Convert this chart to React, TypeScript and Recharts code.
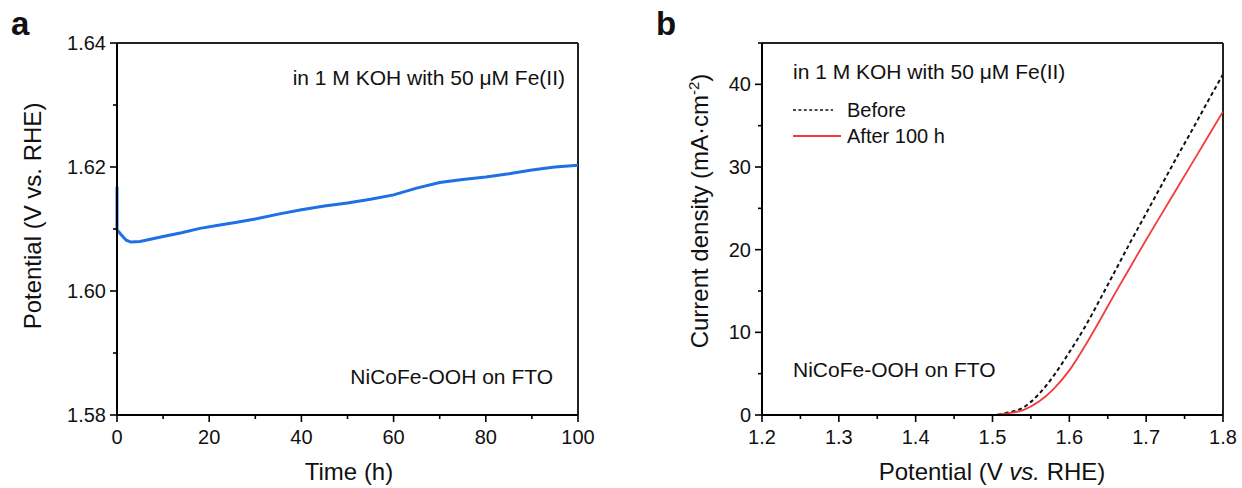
import { LineChart, Line, XAxis, YAxis, ReferenceLine, Legend } from "recharts";

const FONT = "'Liberation Sans', Arial, Helvetica, sans-serif";

// panel a: chronopotentiometry
const timeH = [0, 0, 1, 2, 3, 5, 7, 10, 14, 18, 22, 26, 30, 35, 40, 45, 50, 55, 60, 65, 70, 75, 80, 85, 90, 95, 100];
const potentialV = [
  1.6168, 1.6099, 1.609, 1.6082, 1.6079, 1.608, 1.6083, 1.6088, 1.6094, 1.6101, 1.6106, 1.6111, 1.6116, 1.6124,
  1.6131, 1.6137, 1.6142, 1.6148, 1.6155, 1.6166, 1.6175, 1.618, 1.6184, 1.6189, 1.6195, 1.62, 1.6203,
];
const timeTicks = [0, 10, 20, 30, 40, 50, 60, 70, 80, 90, 100];
const timeMajor = [0, 20, 40, 60, 80, 100];
const potTicks = [1.58, 1.59, 1.6, 1.61, 1.62, 1.63, 1.64];
const potMajor = [1.58, 1.6, 1.62, 1.64];

// panel b: polarization curves
const lsvPotential = [1.27, 1.3, 1.35, 1.4, 1.45, 1.5, 1.52, 1.54, 1.56, 1.58, 1.6, 1.62, 1.64, 1.66, 1.68, 1.7, 1.72, 1.74, 1.76, 1.78, 1.8];
const beforeJ = [0, 0, 0, 0, 0, 0, 0.3, 0.9, 2.5, 4.8, 7.6, 10.6, 14.0, 17.5, 21.0, 24.4, 27.8, 31.2, 34.5, 37.9, 41.2];
const afterJ = [0, 0, 0, 0, 0, 0, 0.2, 0.6, 1.6, 3.2, 5.4, 8.3, 11.5, 14.8, 18.0, 21.2, 24.3, 27.4, 30.5, 33.6, 36.7];
const vTicks = [1.2, 1.25, 1.3, 1.35, 1.4, 1.45, 1.5, 1.55, 1.6, 1.65, 1.7, 1.75, 1.8];
const vMajor = [1.2, 1.3, 1.4, 1.5, 1.6, 1.7, 1.8];
const jTicks = [0, 5, 10, 15, 20, 25, 30, 35, 40, 45];
const jMajor = [0, 10, 20, 30, 40];

const stabilityData = timeH.map((t, i) => ({ t, v: potentialV[i] }));
const lsvData = lsvPotential.map((p, i) => ({ p, before: beforeJ[i], after: afterJ[i] }));

const isMajor = (list: number[], v: number) => list.some((m) => Math.abs(m - v) < 1e-6);

const makeXTick = (majors: number[], digits: number) => (props: any) => {
  const { x, y, payload } = props;
  const major = isMajor(majors, payload.value);
  return (
    <g>
      <line x1={x} y1={y} x2={x} y2={y + (major ? 7 : 4)} stroke="#000" strokeWidth={1.6} />
      {major && (
        <text x={x} y={y + 29} textAnchor="middle" fontSize={20} fontFamily={FONT} fill="#111">
          {payload.value.toFixed(digits)}
        </text>
      )}
    </g>
  );
};

const makeYTick = (majors: number[], digits: number) => (props: any) => {
  const { x, y, payload } = props;
  const major = isMajor(majors, payload.value);
  return (
    <g>
      <line x1={x} y1={y} x2={x - (major ? 7 : 4)} y2={y} stroke="#000" strokeWidth={1.6} />
      {major && (
        <text x={x - 11} y={y + 7} textAnchor="end" fontSize={20} fontFamily={FONT} fill="#111">
          {payload.value.toFixed(digits)}
        </text>
      )}
    </g>
  );
};

const series = [
  { key: "before", name: "Before", color: "#111111", dash: "4 3" },
  { key: "after", name: "After 100 h", color: "#F23B3B", dash: undefined },
];

const renderLegend = () => (
  <svg width={200} height={60}>
    {series.map((s, i) => (
      <g key={s.key}>
        <line
          x1={0}
          x2={s.dash ? 40 : 48}
          y1={12 + i * 26}
          y2={12 + i * 26}
          stroke={s.color}
          strokeWidth={s.dash ? 1.5 : 2}
          strokeDasharray={s.dash ? "3 2.4" : undefined}
        />
        <text x={54} y={19 + i * 26} fontSize={20} fontFamily={FONT} fill="#111">
          {s.name}
        </text>
      </g>
    ))}
  </svg>
);

export default function App() {
  return (
    <div style={{ position: "relative", width: 1242, height: 488, background: "#fff" }}>
      <style>{"body{margin:0}"}</style>

      <div style={{ position: "absolute", left: 0, top: 0 }}>
        <LineChart width={620} height={488} data={stabilityData} margin={{ top: 43, right: 42, bottom: 43, left: 57 }}>
          <XAxis
            dataKey="t"
            type="number"
            domain={[0, 100]}
            ticks={timeTicks}
            interval={0}
            height={30}
            tickSize={0}
            tickMargin={0}
            tickLine={false}
            axisLine={{ stroke: "#000", strokeWidth: 2 }}
            tick={makeXTick(timeMajor, 0)}
          />
          <YAxis
            type="number"
            domain={[1.58, 1.64]}
            ticks={potTicks}
            interval={0}
            width={60}
            tickSize={0}
            tickMargin={0}
            tickLine={false}
            axisLine={{ stroke: "#000", strokeWidth: 2 }}
            tick={makeYTick(potMajor, 2)}
            allowDataOverflow
          />
          <ReferenceLine y={1.64} stroke="#222" strokeWidth={2} />
          <ReferenceLine x={100} stroke="#222" strokeWidth={2} />
          <Line dataKey="v" type="linear" stroke="#1F6FE5" strokeWidth={3} dot={false} isAnimationActive={false} />
        </LineChart>
      </div>

      <div style={{ position: "absolute", left: 640, top: 0 }}>
        <LineChart width={602} height={488} data={lsvData} margin={{ top: 43, right: 19, bottom: 43, left: 62 }}>
          <XAxis
            dataKey="p"
            type="number"
            domain={[1.2, 1.8]}
            ticks={vTicks}
            interval={0}
            height={30}
            tickSize={0}
            tickMargin={0}
            tickLine={false}
            axisLine={{ stroke: "#000", strokeWidth: 2 }}
            tick={makeXTick(vMajor, 1)}
            allowDataOverflow
          />
          <YAxis
            type="number"
            domain={[0, 45]}
            ticks={jTicks}
            interval={0}
            width={60}
            tickSize={0}
            tickMargin={0}
            tickLine={false}
            axisLine={{ stroke: "#000", strokeWidth: 2 }}
            tick={makeYTick(jMajor, 0)}
          />
          <ReferenceLine y={45} stroke="#222" strokeWidth={2} />
          <ReferenceLine x={1.8} stroke="#222" strokeWidth={2} />
          {/* centred/middle so the legend takes no room from the plot; moved with wrapperStyle */}
          <Legend
            content={renderLegend}
            layout="vertical"
            verticalAlign="middle"
            align="center"
            wrapperStyle={{ position: "absolute", left: 153, top: 98, width: 200 }}
          />
          {series.map((s) => (
            <Line
              key={s.key}
              dataKey={s.key}
              name={s.name}
              type="monotone"
              stroke={s.color}
              strokeWidth={s.dash ? 2 : 1.8}
              strokeDasharray={s.dash}
              dot={false}
              isAnimationActive={false}
            />
          ))}
        </LineChart>
      </div>

      <svg
        width={1242}
        height={488}
        style={{ position: "absolute", left: 0, top: 0, pointerEvents: "none" }}
        fontFamily={FONT}
        fill="#111"
      >
        <text x={11} y={35} fontSize={33} fontWeight="bold">a</text>
        <text x={656} y={35} fontSize={33} fontWeight="bold">b</text>

        <text x={565} y={85} fontSize={21} textAnchor="end">in 1 M KOH with 50 μM Fe(II)</text>
        <text x={553} y={384} fontSize={21} textAnchor="end">NiCoFe-OOH on FTO</text>
        <text x={349} y={480} fontSize={24} textAnchor="middle">Time (h)</text>
        <text transform="translate(41,216) rotate(-90)" fontSize={24} textAnchor="middle">
          Potential (V vs. RHE)
        </text>

        <text x={793} y={79} fontSize={21}>in 1 M KOH with 50 μM Fe(II)</text>
        <text x={793} y={377} fontSize={21}>NiCoFe-OOH on FTO</text>
        <text x={992} y={480} fontSize={24} textAnchor="middle">
          Potential (V <tspan fontStyle="italic">vs.</tspan> RHE)
        </text>
        <text transform="translate(708,211) rotate(-90)" fontSize={24} textAnchor="middle">
          Current density (mA·cm
          <tspan dy={-9} fontSize={15}>-2</tspan>
          <tspan dy={9}>)</tspan>
        </text>
      </svg>
    </div>
  );
}
